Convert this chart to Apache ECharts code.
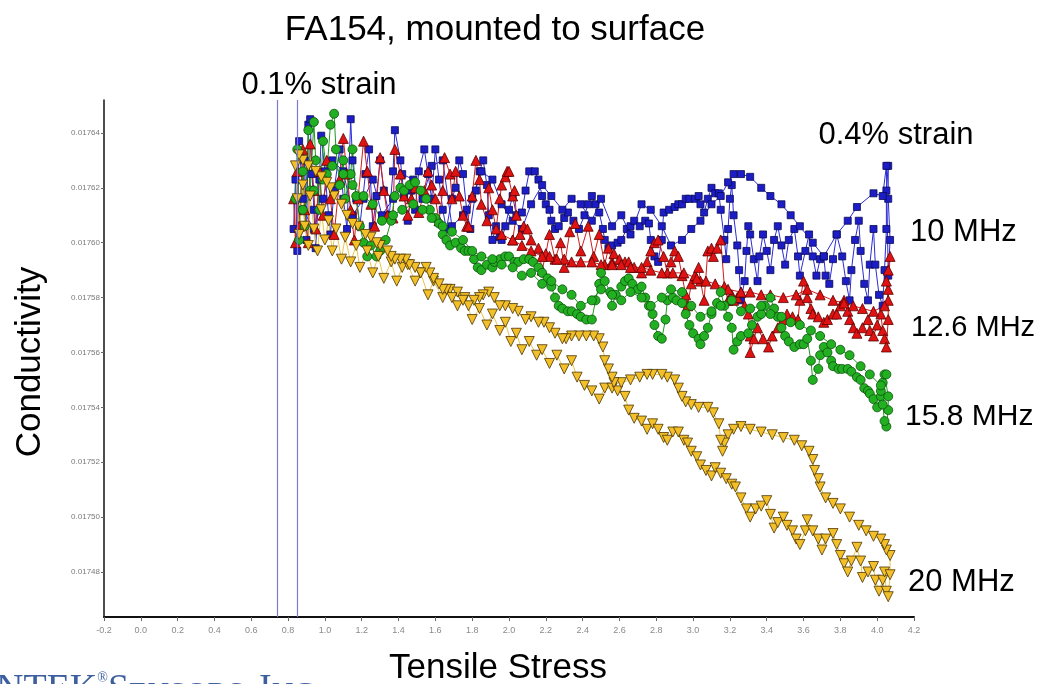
<!DOCTYPE html>
<html>
<head>
<meta charset="utf-8">
<title>FA154, mounted to surface</title>
<script src="https://cdn.jsdelivr.net/npm/echarts@6/dist/echarts.min.js"></script>
<style>
  html, body { margin: 0; padding: 0; background: #fff; }
  #chart { width: 1038px; height: 684px; }
</style>
</head>
<body>
<div id="chart"></div>
<script>
// tick labels
const yTicks = [0.01748, 0.0175, 0.01752, 0.01754, 0.01756, 0.01758, 0.0176, 0.01762, 0.01764];
const strainLines = [0.745, 0.855];

// 10 MHz (blue squares): loading pass, then return
const blueUp = [[0.83,0.017605],[0.84,0.017623],[0.85,0.017597],[0.86,0.017637],[0.88,0.017616],[0.89,0.017630],[0.90,0.017601],[0.91,0.017643],[0.92,0.017645],[0.93,0.017625],[0.94,0.017612],[0.95,0.017598],[0.97,0.017623],[0.98,0.017639],[1.00,0.017626],[1.02,0.017610],[1.03,0.017603],[1.05,0.017619],[1.08,0.017634],[1.10,0.017616],[1.12,0.017605],[1.14,0.017645],[1.15,0.017630],[1.17,0.017616],[1.19,0.017606],[1.22,0.017625],[1.24,0.017634],[1.26,0.017606],[1.28,0.017617],[1.30,0.017630],[1.32,0.017619],[1.35,0.017610],[1.37,0.017626],[1.38,0.017641],[1.41,0.017630],[1.43,0.017617],[1.45,0.017608],[1.47,0.017619],[1.49,0.017612],[1.51,0.017626],[1.54,0.017634],[1.56,0.017625],[1.58,0.017616],[1.60,0.017634],[1.62,0.017623],[1.64,0.017612],[1.66,0.017605],[1.69,0.017616],[1.71,0.017620],[1.73,0.017630],[1.75,0.017625],[1.77,0.017612],[1.79,0.017605],[1.82,0.017619],[1.84,0.017626],[1.86,0.017630],[1.88,0.017621],[1.89,0.017610],[1.91,0.017601],[1.93,0.017606],[1.95,0.017602],[1.96,0.017601],[1.98,0.017606],[2.00,0.017612],[2.02,0.017617],[2.04,0.017610],[2.07,0.017611],[2.09,0.017619],[2.11,0.017626],[2.14,0.017626],[2.16,0.017623],[2.18,0.017617],[2.20,0.017614],[2.22,0.017612],[2.23,0.017608],[2.25,0.017605],[2.27,0.017606],[2.30,0.017609],[2.32,0.017611],[2.35,0.017608],[2.38,0.017605],[2.41,0.017610],[2.43,0.017614],[2.45,0.017617],[2.47,0.017614],[2.49,0.017611],[2.51,0.017605],[2.52,0.017601],[2.54,0.017598],[2.56,0.017599],[2.59,0.017600],[2.61,0.017601],[2.64,0.017605],[2.66,0.017606],[2.68,0.017608],[2.71,0.017606],[2.74,0.017608],[2.76,0.017607],[2.77,0.017601],[2.79,0.017595],[2.81,0.017593],[2.83,0.017601],[2.84,0.017611],[2.87,0.017612],[2.90,0.017613],[2.92,0.017614],[2.94,0.017614],[2.96,0.017616],[2.98,0.017616],[3.01,0.017616],[3.03,0.017617],[3.04,0.017614],[3.06,0.017611],[3.08,0.017616],[3.10,0.017620],[3.12,0.017618],[3.14,0.017618],[3.15,0.017612],[3.17,0.017601],[3.18,0.017594],[3.19,0.017605],[3.20,0.017616],[3.21,0.017621],[3.22,0.017610],[3.24,0.017599],[3.25,0.017590],[3.26,0.017579],[3.28,0.017586],[3.29,0.017597],[3.30,0.017606],[3.31,0.017603],[3.33,0.017594],[3.35,0.017586],[3.36,0.017595],[3.38,0.017603],[3.40,0.017597],[3.42,0.017590],[3.44,0.017601],[3.46,0.017606],[3.48,0.017599],[3.50,0.017592],[3.52,0.017601],[3.55,0.017605],[3.57,0.017595],[3.58,0.017588],[3.61,0.017597],[3.63,0.017603],[3.65,0.017595],[3.67,0.017588],[3.69,0.017594],[3.71,0.017595],[3.72,0.017588],[3.74,0.017585],[3.76,0.017594],[3.78,0.017603],[3.81,0.017595],[3.83,0.017586],[3.85,0.017579],[3.86,0.017590],[3.88,0.017601],[3.90,0.017608],[3.91,0.017597],[3.93,0.017585],[3.95,0.017579],[3.96,0.017592],[3.98,0.017605],[3.99,0.017592],[4.01,0.017581],[4.03,0.017577],[4.04,0.017590],[4.05,0.017605],[4.05,0.017619],[4.06,0.017628],[4.06,0.017616],[4.07,0.017601],[4.06,0.017588]];
const blueDown = [[4.05,0.017628],[4.03,0.017617],[3.98,0.017618],[3.89,0.017613],[3.84,0.017608],[3.78,0.017603],[3.71,0.017595],[3.65,0.017600],[3.58,0.017606],[3.53,0.017610],[3.48,0.017614],[3.42,0.017617],[3.37,0.017620],[3.31,0.017624],[3.26,0.017625],[3.22,0.017625],[3.19,0.017622],[3.15,0.017617],[3.10,0.017614],[3.04,0.017608],[2.99,0.017605],[2.94,0.017601],[2.88,0.017599],[2.83,0.017606],[2.77,0.017612],[2.72,0.017614],[2.66,0.017603],[2.61,0.017610],[2.56,0.017606],[2.50,0.017616],[2.45,0.017608],[2.39,0.017614],[2.34,0.017616],[2.29,0.017612],[2.23,0.017617],[2.18,0.017621],[2.12,0.017614],[2.07,0.017605],[2.02,0.017608],[1.96,0.017614],[1.91,0.017623],[1.85,0.017626],[1.80,0.017616],[1.75,0.017610],[1.69,0.017606],[1.64,0.017630],[1.58,0.017628],[1.53,0.017616],[1.48,0.017623],[1.42,0.017625],[1.37,0.017616],[1.31,0.017610],[1.26,0.017623],[1.21,0.017616],[1.15,0.017610],[1.10,0.017626],[1.04,0.017630],[0.99,0.017616],[0.94,0.017605],[0.88,0.017612]];

// 12.6 MHz (red triangles)
const redUp = [[0.83,0.017616],[0.84,0.017600],[0.85,0.017626],[0.86,0.017606],[0.88,0.017634],[0.89,0.017612],[0.91,0.017600],[0.92,0.017636],[0.94,0.017619],[0.95,0.017605],[0.97,0.017626],[0.99,0.017610],[1.01,0.017630],[1.03,0.017616],[1.05,0.017603],[1.08,0.017623],[1.10,0.017638],[1.12,0.017625],[1.14,0.017612],[1.16,0.017601],[1.18,0.017616],[1.21,0.017637],[1.23,0.017626],[1.25,0.017614],[1.27,0.017606],[1.30,0.017631],[1.32,0.017619],[1.34,0.017610],[1.37,0.017609],[1.38,0.017634],[1.41,0.017625],[1.43,0.017617],[1.45,0.017610],[1.47,0.017616],[1.49,0.017620],[1.51,0.017611],[1.54,0.017619],[1.56,0.017626],[1.58,0.017621],[1.60,0.017616],[1.62,0.017608],[1.64,0.017619],[1.65,0.017631],[1.68,0.017625],[1.69,0.017616],[1.71,0.017626],[1.73,0.017617],[1.75,0.017610],[1.77,0.017606],[1.78,0.017606],[1.80,0.017617],[1.82,0.017630],[1.84,0.017623],[1.85,0.017614],[1.88,0.017608],[1.89,0.017620],[1.91,0.017612],[1.93,0.017605],[1.95,0.017616],[1.96,0.017621],[1.98,0.017624],[1.99,0.017626],[2.00,0.017626],[2.02,0.017617],[2.03,0.017619],[2.04,0.017610],[2.02,0.017601],[2.06,0.017603],[2.08,0.017606],[2.10,0.017605],[2.12,0.017601],[2.16,0.017598],[2.18,0.017590],[2.20,0.017596],[2.22,0.017603],[2.25,0.017594],[2.28,0.017600],[2.30,0.017591],[2.33,0.017604],[2.36,0.017607],[2.39,0.017597],[2.43,0.017606],[2.46,0.017595],[2.49,0.017603],[2.52,0.017592],[2.54,0.017598],[2.56,0.017593],[2.57,0.017596],[2.60,0.017594],[2.63,0.017593],[2.65,0.017593],[2.68,0.017591],[2.72,0.017589],[2.75,0.017593],[2.77,0.017597],[2.79,0.017600],[2.81,0.017601],[2.84,0.017595],[2.86,0.017589],[2.88,0.017593],[2.90,0.017597],[2.92,0.017595],[2.94,0.017588],[2.96,0.017581],[2.97,0.017577],[2.99,0.017585],[3.01,0.017588],[3.03,0.017591],[3.04,0.017586],[3.06,0.017579],[3.08,0.017597],[3.10,0.017598],[3.11,0.017595],[3.13,0.017598],[3.15,0.017601],[3.17,0.017584],[3.19,0.017579],[3.21,0.017581],[3.22,0.017579],[3.24,0.017580],[3.26,0.017582],[3.28,0.017577],[3.30,0.017574],[3.31,0.017566],[3.31,0.017560],[3.33,0.017565],[3.35,0.017569],[3.38,0.017565],[3.41,0.017562],[3.43,0.017566],[3.46,0.017569],[3.49,0.017572],[3.51,0.017574],[3.54,0.017573],[3.57,0.017572],[3.58,0.017579],[3.60,0.017586],[3.62,0.017580],[3.64,0.017576],[3.65,0.017574],[3.68,0.017573],[3.71,0.017571],[3.73,0.017572],[3.76,0.017574],[3.78,0.017574],[3.80,0.017577],[3.82,0.017579],[3.84,0.017575],[3.85,0.017572],[3.87,0.017569],[3.89,0.017567],[3.92,0.017569],[3.95,0.017572],[3.96,0.017568],[3.98,0.017566],[4.00,0.017570],[4.02,0.017574],[4.03,0.017568],[4.04,0.017565],[4.05,0.017562],[4.06,0.017572],[4.06,0.017583],[4.07,0.017595],[4.06,0.017590],[4.05,0.017586],[4.06,0.017579]];
const redDown = [[4.04,0.017577],[3.98,0.017575],[3.92,0.017576],[3.87,0.017577],[3.82,0.017578],[3.76,0.017579],[3.69,0.017581],[3.62,0.017583],[3.56,0.017581],[3.49,0.017580],[3.42,0.017581],[3.37,0.017581],[3.31,0.017582],[3.26,0.017582],[3.19,0.017583],[3.12,0.017585],[3.07,0.017586],[3.02,0.017587],[2.95,0.017589],[2.89,0.017589],[2.83,0.017589],[2.77,0.017590],[2.72,0.017591],[2.66,0.017591],[2.61,0.017592],[2.56,0.017592],[2.50,0.017592],[2.45,0.017593],[2.39,0.017593],[2.34,0.017593],[2.30,0.017594],[2.26,0.017594],[2.22,0.017595],[2.18,0.017595],[2.12,0.017597],[2.07,0.017599],[2.02,0.017601],[1.96,0.017603]];

// 15.8 MHz (green circles)
const greenUp = [[0.84,0.017616],[0.85,0.017634],[0.86,0.017601],[0.88,0.017626],[0.89,0.017606],[0.91,0.017641],[0.92,0.017619],[0.94,0.017644],[0.95,0.017630],[0.97,0.017612],[0.99,0.017637],[1.01,0.017625],[1.03,0.017643],[1.05,0.017647],[1.06,0.017634],[1.08,0.017621],[1.10,0.017630],[1.11,0.017616],[1.14,0.017625],[1.15,0.017634],[1.17,0.017617],[1.19,0.017606],[1.21,0.017600],[1.23,0.017595],[1.25,0.017599],[1.28,0.017595],[1.30,0.017597],[1.33,0.017601],[1.36,0.017608],[1.38,0.017617],[1.41,0.017620],[1.43,0.017619],[1.46,0.017621],[1.49,0.017622],[1.52,0.017619],[1.55,0.017616],[1.57,0.017612],[1.60,0.017609],[1.62,0.017607],[1.64,0.017603],[1.66,0.017601],[1.68,0.017599],[1.71,0.017600],[1.74,0.017598],[1.76,0.017597],[1.78,0.017597],[1.81,0.017594],[1.83,0.017591],[1.85,0.017590],[1.88,0.017592],[1.91,0.017591],[1.92,0.017593],[1.95,0.017594],[1.98,0.017595],[2.00,0.017595],[2.03,0.017593],[2.05,0.017593],[2.08,0.017594],[2.11,0.017594],[2.13,0.017593],[2.16,0.017591],[2.18,0.017589],[2.21,0.017587],[2.23,0.017584],[2.25,0.017580],[2.27,0.017577],[2.29,0.017576],[2.32,0.017575],[2.34,0.017575],[2.37,0.017574],[2.39,0.017573],[2.42,0.017572],[2.45,0.017572],[2.47,0.017579],[2.49,0.017585],[2.50,0.017589],[2.52,0.017586],[2.55,0.017582],[2.56,0.017577],[2.58,0.017581],[2.61,0.017584],[2.63,0.017586],[2.65,0.017587],[2.67,0.017585],[2.70,0.017583],[2.72,0.017584],[2.74,0.017580],[2.76,0.017577],[2.78,0.017574],[2.79,0.017570],[2.81,0.017566],[2.83,0.017565],[2.85,0.017572],[2.86,0.017579],[2.89,0.017580],[2.91,0.017579],[2.94,0.017578],[2.96,0.017574],[2.98,0.017570],[3.00,0.017567],[3.03,0.017565],[3.04,0.017563],[3.06,0.017566],[3.08,0.017569],[3.10,0.017574],[3.13,0.017578],[3.15,0.017582],[3.17,0.017577],[3.19,0.017573],[3.21,0.017569],[3.22,0.017561],[3.24,0.017564],[3.26,0.017566],[3.30,0.017567],[3.32,0.017570],[3.35,0.017573],[3.37,0.017574],[3.39,0.017577],[3.42,0.017580],[3.44,0.017576],[3.46,0.017573],[3.48,0.017569],[3.50,0.017566],[3.52,0.017564],[3.55,0.017562],[3.58,0.017563],[3.60,0.017563],[3.62,0.017565],[3.64,0.017557],[3.65,0.017550],[3.68,0.017554],[3.69,0.017559],[3.71,0.017562],[3.73,0.017560],[3.75,0.017557],[3.76,0.017555],[3.79,0.017554],[3.81,0.017554],[3.84,0.017554],[3.86,0.017553],[3.89,0.017551],[3.91,0.017550],[3.93,0.017547],[3.95,0.017546],[3.96,0.017545],[3.98,0.017543],[4.00,0.017540],[4.02,0.017544],[4.03,0.017549],[4.04,0.017552],[4.05,0.017552],[4.06,0.017544],[4.06,0.017539],[4.05,0.017533],[4.04,0.017535],[4.03,0.017541],[4.02,0.017546]];
const greenDown = [[4.02,0.017548],[3.96,0.017552],[3.91,0.017555],[3.85,0.017559],[3.80,0.017561],[3.75,0.017563],[3.69,0.017566],[3.64,0.017568],[3.58,0.017570],[3.53,0.017571],[3.48,0.017573],[3.42,0.017574],[3.37,0.017577],[3.31,0.017576],[3.26,0.017575],[3.21,0.017579],[3.15,0.017577],[3.10,0.017575],[3.04,0.017573],[2.99,0.017577],[2.94,0.017582],[2.88,0.017583],[2.83,0.017580],[2.77,0.017577],[2.72,0.017580],[2.66,0.017582],[2.61,0.017579],[2.56,0.017581],[2.50,0.017583],[2.45,0.017579],[2.39,0.017577],[2.34,0.017581],[2.29,0.017583],[2.23,0.017586],[2.18,0.017585],[2.12,0.017589],[2.07,0.017588],[2.02,0.017591],[1.96,0.017592],[1.91,0.017594],[1.85,0.017595],[1.80,0.017597],[1.75,0.017601],[1.69,0.017604],[1.64,0.017606],[1.58,0.017609],[1.53,0.017612],[1.48,0.017614],[1.42,0.017612],[1.37,0.017610],[1.31,0.017608],[1.26,0.017614],[1.21,0.017617],[1.15,0.017621],[1.10,0.017625],[1.04,0.017628],[0.99,0.017623],[0.94,0.017619],[0.88,0.017612]];

// 20 MHz (yellow down-triangles)
const yellowUp = [[0.84,0.017628],[0.85,0.017616],[0.86,0.017603],[0.88,0.017621],[0.89,0.017606],[0.91,0.017599],[0.92,0.017617],[0.94,0.017605],[0.96,0.017597],[0.98,0.017612],[1.00,0.017601],[1.02,0.017608],[1.04,0.017597],[1.06,0.017605],[1.09,0.017594],[1.11,0.017602],[1.14,0.017593],[1.17,0.017599],[1.19,0.017591],[1.23,0.017597],[1.26,0.017589],[1.29,0.017595],[1.32,0.017587],[1.36,0.017593],[1.39,0.017586],[1.42,0.017591],[1.45,0.017592],[1.49,0.017586],[1.52,0.017589],[1.56,0.017581],[1.59,0.017586],[1.64,0.017580],[1.68,0.017583],[1.72,0.017577],[1.76,0.017580],[1.80,0.017572],[1.84,0.017576],[1.88,0.017570],[1.91,0.017574],[1.95,0.017568],[1.98,0.017571],[2.01,0.017564],[2.04,0.017567],[2.07,0.017561],[2.11,0.017564],[2.15,0.017559],[2.18,0.017561],[2.22,0.017556],[2.26,0.017559],[2.30,0.017554],[2.34,0.017557],[2.37,0.017551],[2.41,0.017548],[2.45,0.017546],[2.49,0.017543],[2.52,0.017547],[2.56,0.017547],[2.59,0.017546],[2.63,0.017544],[2.65,0.017539],[2.68,0.017536],[2.72,0.017535],[2.75,0.017532],[2.78,0.017534],[2.81,0.017532],[2.84,0.017529],[2.86,0.017528],[2.89,0.017531],[2.92,0.017531],[2.95,0.017528],[2.97,0.017527],[2.99,0.017524],[3.02,0.017522],[3.04,0.017519],[3.07,0.017517],[3.10,0.017515],[3.12,0.017518],[3.15,0.017516],[3.18,0.017514],[3.21,0.017512],[3.23,0.017511],[3.26,0.017507],[3.29,0.017503],[3.31,0.017500],[3.34,0.017503],[3.37,0.017504],[3.40,0.017506],[3.42,0.017501],[3.44,0.017496],[3.46,0.017498],[3.49,0.017500],[3.51,0.017497],[3.54,0.017495],[3.56,0.017492],[3.58,0.017490],[3.61,0.017495],[3.62,0.017499],[3.65,0.017495],[3.68,0.017492],[3.70,0.017488],[3.72,0.017492],[3.76,0.017494],[3.78,0.017490],[3.80,0.017486],[3.82,0.017483],[3.84,0.017480],[3.86,0.017484],[3.89,0.017489],[3.91,0.017484],[3.92,0.017478],[3.95,0.017480],[3.98,0.017482],[3.99,0.017477],[4.01,0.017473],[4.03,0.017477],[4.04,0.017480],[4.05,0.017473],[4.06,0.017471],[4.07,0.017479],[4.07,0.017486]];
const yellowDown = [[4.05,0.017488],[4.04,0.017490],[4.02,0.017492],[3.98,0.017493],[3.94,0.017495],[3.90,0.017497],[3.85,0.017500],[3.80,0.017503],[3.76,0.017505],[3.72,0.017507],[3.69,0.017511],[3.68,0.017514],[3.66,0.017517],[3.65,0.017521],[3.63,0.017524],[3.59,0.017526],[3.55,0.017528],[3.49,0.017529],[3.43,0.017530],[3.37,0.017531],[3.31,0.017532],[3.26,0.017533],[3.22,0.017532],[3.19,0.017530],[3.17,0.017527],[3.16,0.017524],[3.15,0.017528],[3.14,0.017534],[3.11,0.017538],[3.08,0.017540],[3.03,0.017540],[2.99,0.017541],[2.96,0.017542],[2.94,0.017544],[2.92,0.017547],[2.90,0.017550],[2.86,0.017551],[2.83,0.017552],[2.78,0.017552],[2.75,0.017552],[2.71,0.017551],[2.66,0.017550],[2.61,0.017549],[2.57,0.017549],[2.56,0.017551],[2.54,0.017554],[2.52,0.017557],[2.51,0.017562],[2.49,0.017565],[2.46,0.017566],[2.42,0.017566],[2.38,0.017566],[2.34,0.017566],[2.31,0.017565],[2.29,0.017565],[2.25,0.017567],[2.22,0.017569],[2.19,0.017571],[2.16,0.017571],[2.12,0.017573],[2.09,0.017572],[2.05,0.017575],[2.02,0.017576],[1.98,0.017577],[1.95,0.017577],[1.92,0.017580],[1.89,0.017582],[1.86,0.017581],[1.84,0.017580],[1.81,0.017579],[1.78,0.017577],[1.75,0.017579],[1.72,0.017582],[1.69,0.017580],[1.66,0.017583],[1.64,0.017583],[1.62,0.017585],[1.59,0.017587],[1.57,0.017589],[1.55,0.017591],[1.52,0.017589],[1.49,0.017591],[1.46,0.017592],[1.44,0.017594],[1.41,0.017594],[1.38,0.017594],[1.36,0.017595],[1.34,0.017597],[1.30,0.017599],[1.28,0.017600],[1.25,0.017602],[1.22,0.017603],[1.18,0.017606],[1.15,0.017607],[1.12,0.017610],[1.09,0.017614],[1.05,0.017617],[1.03,0.017620],[1.01,0.017622],[0.98,0.017624],[0.95,0.017626],[0.91,0.017628],[0.88,0.017630],[0.86,0.017632]];

const FONT = '"Liberation Sans", Arial, sans-serif';

let myChart = echarts.init(document.getElementById('chart'));

// one series per frequency, drawn blue first so yellow ends on top
function makeSeries(name, data, symbol, size, fill, edge, line, extra) {
  return Object.assign({
    name: name,
    type: 'line',
    data: data,
    symbol: symbol,
    symbolSize: size,
    showAllSymbol: true,
    itemStyle: { color: fill, borderColor: edge, borderWidth: 0.8 },
    lineStyle: { color: line, width: 1 },
    emphasis: { disabled: true }
  }, extra || {});
}

let option = {
  backgroundColor: '#fff',
  animation: false,
  grid: { left: 104, right: 124, top: 100, bottom: 67, containLabel: false },
  xAxis: {
    type: 'value',
    min: -0.2,
    max: 4.2,
    interval: 0.2,
    axisLine: { onZero: false, lineStyle: { color: '#111', width: 2 } },
    axisTick: { show: true, length: 4, lineStyle: { color: '#666' } },
    axisLabel: {
      fontSize: 9,
      color: '#8a8a8a',
      margin: 9,
      fontFamily: FONT,
      formatter: function (v) { return (Math.abs(v) < 1e-9 ? 0 : v).toFixed(1); }
    },
    splitLine: { show: false }
  },
  yAxis: {
    type: 'value',
    min: 0.0174636,
    max: 0.017652,
    axisLine: { show: true, onZero: false, lineStyle: { color: '#111', width: 1.5 } },
    axisTick: { show: true, length: 3, customValues: yTicks, lineStyle: { color: '#666' } },
    axisLabel: {
      customValues: yTicks,
      fontSize: 8,
      color: '#7a7a7a',
      margin: 4,
      fontFamily: FONT,
      formatter: function (v) { return v.toFixed(5); }
    },
    splitLine: { show: false }
  },
  graphic: [
    { type: 'text', style: { text: 'FA154, mounted to surface', x: 495, y: 30, textAlign: 'center', textVerticalAlign: 'middle', fontSize: 35, fontFamily: FONT, fill: '#000' } },
    { type: 'text', style: { text: '0.1% strain', x: 319, y: 85, textAlign: 'center', textVerticalAlign: 'middle', fontSize: 31, fontFamily: FONT, fill: '#000' } },
    { type: 'text', style: { text: '0.4% strain', x: 896, y: 135, textAlign: 'center', textVerticalAlign: 'middle', fontSize: 31, fontFamily: FONT, fill: '#000' } },
    { type: 'text', style: { text: '10 MHz', x: 910, y: 232, textAlign: 'left', textVerticalAlign: 'middle', fontSize: 31, fontFamily: FONT, fill: '#000' } },
    { type: 'text', style: { text: '12.6 MHz', x: 911, y: 328, textAlign: 'left', textVerticalAlign: 'middle', fontSize: 29, fontFamily: FONT, fill: '#000' } },
    { type: 'text', style: { text: '15.8 MHz', x: 905, y: 417, textAlign: 'left', textVerticalAlign: 'middle', fontSize: 30, fontFamily: FONT, fill: '#000' } },
    { type: 'text', style: { text: '20 MHz', x: 908, y: 582, textAlign: 'left', textVerticalAlign: 'middle', fontSize: 31, fontFamily: FONT, fill: '#000' } },
    { type: 'text', style: { text: 'Tensile Stress', x: 498, y: 668, textAlign: 'center', textVerticalAlign: 'middle', fontSize: 35, fontFamily: FONT, fill: '#000' } },
    { type: 'text', x: 30, y: 362, rotation: Math.PI / 2, style: { text: 'Conductivity', x: 0, y: 0, textAlign: 'center', textVerticalAlign: 'middle', fontSize: 35, fontFamily: FONT, fill: '#000' } },
    // logo, cut off by the bottom edge
    {
      type: 'text',
      style: {
        x: -42, y: 671,
        textVerticalAlign: 'top',
        text: '{a|JENTEK}{r|®}{a|S}{b|ENSORS, }{a|I}{b|NC.}',
        fill: '#3d5f9f',
        rich: {
          a: { fontSize: 38, fontFamily: '"Liberation Serif", serif', fill: '#3d5f9f', verticalAlign: 'bottom' },
          b: { fontSize: 30, fontFamily: '"Liberation Serif", serif', fill: '#3d5f9f', verticalAlign: 'bottom' },
          r: { fontSize: 14, fontFamily: '"Liberation Serif", serif', fill: '#3d5f9f', verticalAlign: 'top' }
        }
      }
    }
  ],
  series: [
    makeSeries('10 MHz', blueUp.concat(blueDown), 'rect', 7, '#1d1dc8', '#0a0a55', '#2b2bd6', {
      markLine: {
        silent: true,
        symbol: 'none',
        label: { show: false },
        lineStyle: { color: '#7b7bd6', width: 1.2, type: 'solid' },
        data: strainLines.map(function (v) { return { xAxis: v }; })
      }
    }),
    makeSeries('12.6 MHz', redUp.concat(redDown), 'triangle', 10, '#e01212', '#5a0000', '#d41a1a'),
    makeSeries('15.8 MHz', greenUp.concat(greenDown), 'circle', 9, '#22b022', '#0b520b', '#1d9a1d'),
    makeSeries('20 MHz', yellowUp.concat(yellowDown), 'triangle', 10, '#f3c02a', '#4a3400', '#e8c84a', { symbolRotate: 180 })
  ]
};

myChart.setOption(option);
window.addEventListener('resize', function () { myChart.resize(); });
</script>
</body>
</html>
